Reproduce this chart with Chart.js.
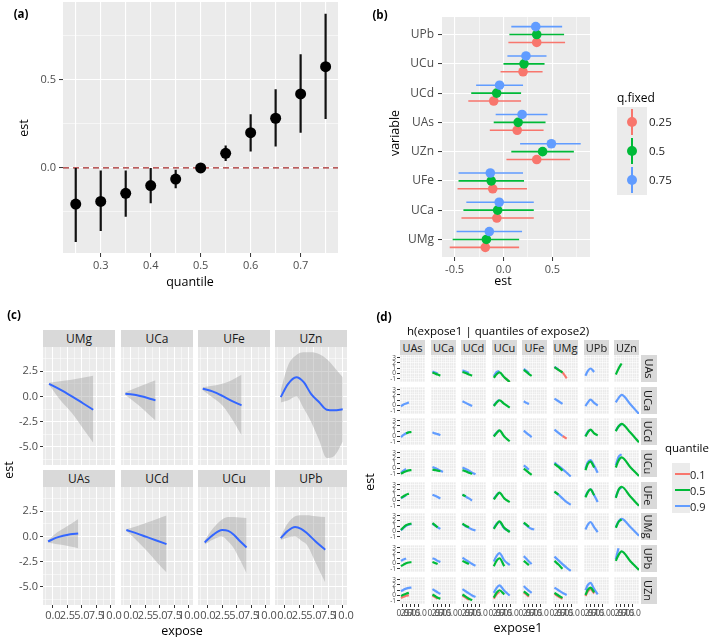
<!DOCTYPE html>
<html><head><meta charset="utf-8">
<script src="https://cdn.jsdelivr.net/npm/chart.js@4.4.0/dist/chart.umd.min.js"></script>
<style>
html,body{margin:0;padding:0;background:#fff}
body{width:709px;height:637px;overflow:hidden;position:relative;font-family:'Open Sans','DejaVu Sans',sans-serif}
canvas{position:absolute}
.t{position:absolute;white-space:nowrap;color:#000;line-height:1}
.strip{position:absolute;background:#D9D9D9;color:#1A1A1A;display:flex;align-items:center;justify-content:center;overflow:hidden;white-space:nowrap}
.box{position:absolute}
</style></head><body>
<script>
// ================= DATA =================
// (a) quantile effects
const aQuantile = [0.25,0.30,0.35,0.40,0.45,0.50,0.55,0.60,0.65,0.70,0.75];
const aEst      = [-0.205,-0.19,-0.144,-0.10,-0.063,0.0,0.083,0.20,0.282,0.42,0.575];
const aLower    = [-0.42,-0.358,-0.277,-0.20,-0.115,0.0,0.04,0.093,0.121,0.20,0.278];
const aUpper    = [0.0,-0.015,-0.015,0.0,-0.011,0.0,0.127,0.305,0.447,0.646,0.875];
const aRefY = 0;

// (b) single-variable effects, bottom to top
const bVariables = ['UMg','UCa','UFe','UZn','UAs','UCd','UCu','UPb'];
const bQFixed = ['0.25','0.5','0.75'];
const bEst25 = [-0.186,-0.068,-0.11,0.34,0.14,-0.10,0.20,0.34];
const bLow25 = [-0.55,-0.43,-0.47,0.03,-0.14,-0.36,-0.03,0.05];
const bUp25  = [0.16,0.31,0.24,0.68,0.41,0.18,0.40,0.63];
const bEst50 = [-0.175,-0.06,-0.125,0.40,0.15,-0.07,0.21,0.34];
const bLow50 = [-0.52,-0.41,-0.46,0.08,-0.10,-0.33,0.00,0.06];
const bUp50  = [0.16,0.31,0.21,0.72,0.43,0.18,0.42,0.62];
const bEst75 = [-0.145,-0.044,-0.135,0.49,0.19,-0.04,0.23,0.33];
const bLow75 = [-0.48,-0.38,-0.46,0.17,-0.08,-0.28,0.04,0.08];
const bUp75  = [0.19,0.31,0.20,0.79,0.45,0.20,0.44,0.60];

// (c) univariate exposure-response (x, fit, lower, upper)
const cPanels = ['UMg','UCa','UFe','UZn','UAs','UCd','UCu','UPb'];
const cX_UMg = [-0.66,1.2,3.2,5.1,6.95];
const cF_UMg = [1.25,0.7,0.03,-0.65,-1.32];
const cL_UMg = [1.15,-0.3,-1.6,-3.1,-4.6];
const cH_UMg = [1.35,1.5,1.65,1.85,2.05];
const cX_UCa = [-0.95,0.3,1.6,2.9,4.24];
const cF_UCa = [0.26,0.2,0.05,-0.15,-0.39];
const cL_UCa = [0.15,-0.4,-1.0,-1.7,-2.4];
const cH_UCa = [0.4,0.7,1.0,1.3,1.6];
const cX_UFe = [-0.89,0.8,2.5,4.1,5.8];
const cF_UFe = [0.76,0.5,0.05,-0.45,-0.89];
const cL_UFe = [0.62,-0.1,-0.9,-2.2,-3.85];
const cH_UFe = [0.9,1.05,1.25,1.6,2.14];
const cX_UZn = [-0.71,0.5,1.97,3.25,4.5,5.87,7.2,8.5,9.96];
const cF_UZn = [-0.07,1.2,1.9,1.41,0.26,-0.56,-1.32,-1.38,-1.28];
const cL_UZn = [-0.6,-0.4,0.0,-1.2,-2.5,-4.3,-6.1,-5.9,-4.5];
const cH_UZn = [0.6,3.0,4.1,4.37,4.37,4.2,3.7,2.9,1.9];
const cX_UAs = [-0.83,0.5,1.76,3.0,4.36];
const cF_UAs = [-0.5,-0.15,0.07,0.22,0.3];
const cL_UAs = [-0.6,-0.75,-0.85,-1.0,-1.17];
const cH_UAs = [-0.4,0.3,0.75,1.2,1.73];
const cX_UCd = [-0.78,1.0,2.7,4.4,6.14];
const cF_UCd = [0.63,0.3,-0.05,-0.4,-0.77];
const cL_UCd = [0.55,-0.4,-1.4,-2.5,-3.57];
const cH_UCd = [0.72,1.0,1.35,1.7,2.07];
const cX_UCu = [-0.55,0.9,2.45,3.5,4.47,5.5,6.66];
const cF_UCu = [-0.6,0.15,0.63,0.55,0.17,-0.45,-1.1];
const cL_UCu = [-0.8,-0.3,0.0,-0.5,-1.17,-2.3,-3.67];
const cH_UCu = [-0.4,0.8,1.67,1.93,1.93,1.88,1.83];
const cX_UPb = [-0.72,0.5,1.76,2.8,3.78,5.3,6.95];
const cF_UPb = [-0.17,0.55,0.93,0.75,0.33,-0.5,-1.33];
const cL_UPb = [-0.35,-0.1,0.0,-0.4,-0.83,-2.6,-4.57];
const cH_UPb = [0.0,1.3,2.0,2.1,2.1,2.0,1.93];
const cTicks = [0,2.5,5,7.5,10];

// (d) bivariate: columns = expose1 variable, rows = expose2 variable
const dVars = ['UAs','UCa','UCd','UCu','UFe','UMg','UPb','UZn'];
const dQuantiles = ['0.1','0.5','0.9'];
const dColX = [
  [-0.9,0.7,2.3,4.0,5.6],   // UAs
  [-0.6,1.0,2.6,4.3,5.9],   // UCa
  [-0.6,1.4,3.4,5.4,7.5],   // UCd
  [-0.4,1.5,3.1,6.1,9.5],   // UCu
  [-0.4,1.2,2.8,4.5,6.1],   // UFe
  [-0.6,1.9,4.4,7.0,9.5],   // UMg
  [-0.6,0.9,2.5,4.8,7.0],   // UPb
  [-0.4,1.3,3.2,8.5,14.0]   // UZn
];
const _ = null;
const dRowUAs = [null,
  {g:[0.2,0.0,-0.2,-0.4,_], b:[0.4,0.2,0.0,_,_]},
  {g:[0.3,0.1,-0.2,-0.4,_], b:[0.6,0.4,0.1,_,_]},
  {r:[_,_,_,-0.7,-1.6], g:[-0.8,-0.1,0.2,-0.7,-1.6], b:[-0.5,0.3,0.45,_,_]},
  {g:[0.7,0.3,-0.1,-0.45,_], b:[0.9,0.5,0.1,_,_]},
  {r:[1.2,0.7,0.2,-0.9,_], g:[1.2,0.7,0.2,_,_], b:[1.25,0.75,_,_,_]},
  {b:[-0.4,0.5,0.95,0.3,_]},
  {g:[-0.2,0.9,1.9,_,_]}];
const dRowUCa = [
  {b:[-0.15,0.2,0.4,0.6,_]},
  null,
  {b:[0.8,0.5,0.2,-0.1,_]},
  {g:[-0.1,0.6,1.0,0.3,-0.4], b:[0.0,0.7,1.05,_,_]},
  {b:[0.8,0.5,0.3,_,_]},
  {b:[1.3,0.8,0.3,_,_]},
  {b:[-0.1,0.6,1.1,0.5,0.0]},
  {b:[0.6,1.4,2.0,0.3,-1.6]}];
const dRowUCd = [
  {b:[-0.1,0.3,0.6,0.8,_], g:[_,_,0.6,0.8,0.85]},
  {b:[0.8,0.6,0.45,0.25,_]},
  null,
  {g:[0.0,0.7,1.15,0.0,-0.9], b:[0.1,0.8,1.15,_,_]},
  {b:[1.1,0.7,0.3,-0.1,_]},
  {r:[_,_,0.1,-0.4,_], b:[1.3,0.7,0.1,_,_]},
  {g:[0.0,0.8,1.3,0.6,0.2], b:[0.1,0.9,1.3,_,_]},
  {g:[1.0,1.9,2.4,0.8,-1.1], b:[1.1,1.9,2.3,_,_]}];
const dRowUCu = [
  {g:[-1.0,-0.7,-0.5,-0.35,-0.3], b:[-0.8,-0.4,-0.1,_,_]},
  {g:[-0.2,-0.3,-0.4,-0.5,_], b:[0.3,0.1,-0.15,-0.4,-0.65]},
  {g:[-0.3,-0.5,-0.8,-1.0,_], b:[0.2,-0.1,-0.4,-0.8,-1.1]},
  null,
  {g:[0.0,-0.4,-0.8,-1.2,_], b:[0.6,0.2,-0.2,_,_]},
  {g:[0.9,0.3,-0.4,_,_], b:[1.1,0.5,-0.1,-0.8,-1.5]},
  {g:[-0.3,0.9,1.3,0.2,_], b:[0.0,1.2,1.6,0.5,-0.8]},
  {g:[0.2,1.5,2.1,0.3,-1.4], b:[0.6,2.2,2.7,_,_]}];
const dRowUFe = [
  {g:[0.5,0.8,1.1,1.3,_], b:[0.4,0.7,1.0,_,_]},
  {b:[1.1,0.9,0.65,0.4,_]},
  {g:[1.1,0.8,_,_,_], b:[1.1,0.75,0.4,0.0,_]},
  {g:[0.2,1.0,1.5,0.4,-0.3], b:[0.3,1.1,1.5,_,_]},
  null,
  {g:[1.7,1.1,_,_,_], b:[1.7,1.1,0.4,-0.3,-0.8]},
  {g:[0.6,1.6,2.1,1.0,_], b:[0.8,1.7,2.1,1.0,-0.3]},
  {g:[0.5,2.0,2.6,0.8,-1.0], b:[0.6,2.0,2.5,_,_]}];
const dRowUMg = [
  {g:[0.3,0.8,1.2,1.4,1.5], b:[0.2,0.7,1.1,1.3,1.4]},
  {g:[1.6,1.2,0.8,_,_], b:[1.5,1.1,0.8,0.5,_]},
  {g:[1.5,1.1,0.8,_,_], b:[1.4,1.0,0.7,0.4,0.2]},
  {g:[0.5,1.4,1.9,0.7,-0.1], b:[0.6,1.5,1.8,0.6,0.0]},
  {g:[1.7,1.3,0.9,_,_], b:[1.6,1.2,0.8,0.5,0.4]},
  null,
  {b:[0.4,1.3,1.8,0.8,-0.1]},
  {g:[0.7,1.8,2.3,_,_], b:[0.8,1.9,2.4,0.9,-0.8]}];
const dRowUPb = [
  {g:[-0.5,-0.2,0.05,0.2,0.25], b:[0.5,0.75,0.95,_,_]},
  {g:[0.3,0.1,-0.1,_,_], b:[1.0,0.8,0.5,0.3,_]},
  {g:[0.5,0.2,-0.1,_,_], b:[1.1,0.7,0.3,-0.1,-0.4]},
  {g:[-0.5,0.6,1.0,-0.5,_], b:[0.4,1.5,1.95,0.6,-0.3]},
  {g:[0.5,0.1,-0.3,_,_], b:[1.4,0.9,0.4,-0.1,_]},
  {g:[0.5,-0.2,-1.0,_,_], b:[1.3,0.6,-0.1,-0.8,-1.4]},
  null,
  {g:[0.5,1.6,2.3,0.5,-1.2], b:[0.8,2.9,_,_,_]}];
const dRowUZn = [
  {r:[-0.45,-0.25,-0.05,0.05,_], g:[-0.1,0.15,0.35,0.5,_], b:[0.8,1.1,1.3,1.45,1.5]},
  {r:[0.0,-0.3,-0.6,_,_], g:[0.2,-0.1,-0.4,-0.6,_], b:[1.2,0.9,0.6,0.3,_]},
  {r:[0.0,-0.4,-0.8,_,_], g:[0.2,-0.2,-0.6,-0.9,_], b:[1.2,0.8,0.4,0.0,-0.3]},
  {r:[-0.6,0.3,0.7,_,_], g:[-0.4,0.6,1.0,0.2,_], b:[0.5,1.5,1.9,0.9,0.0]},
  {r:[0.6,0.2,-0.2,_,_], g:[0.8,0.4,0.0,_,_], b:[1.8,1.3,0.9,0.5,_]},
  {r:[0.3,-0.2,-0.6,_,_], g:[0.5,0.0,-0.45,_,_], b:[1.5,1.0,0.5,0.1,_]},
  {r:[-0.1,0.8,1.2,0.4,_], g:[0.1,1.1,1.5,0.6,_], b:[1.0,2.0,2.4,1.2,0.2]},
  null];
const dRows = [dRowUAs,dRowUCa,dRowUCd,dRowUCu,dRowUFe,dRowUMg,dRowUPb,dRowUZn];

// ================= HELPERS =================
const FONT = "'Open Sans', 'DejaVu Sans', sans-serif";
const BG = '#EBEBEB';
const COL = {r:'#F8766D', g:'#00BA38', b:'#619CFF'};
const near = (v, m) => Math.abs(v / m - Math.round(v / m)) < 1e-6;
const fmt1 = v => (Math.abs(v) < 1e-9 ? 0 : v).toFixed(1);

const bgPlugin = {id:'panelBg', beforeDraw(ch){
  const a = ch.chartArea, c = ch.ctx;
  c.save(); c.fillStyle = BG; c.fillRect(a.left, a.top, a.right - a.left, a.bottom - a.top); c.restore();
}};

function scale(kind, o) {
  const lab = o.label || (() => '');
  const size = o.show ? (o.size ?? (kind === 'x' ? 22 : 46)) : 0;
  const s = {
    type:'linear', position: kind === 'x' ? 'bottom' : 'left', min:o.min, max:o.max,
    ticks:{stepSize:o.step, includeBounds:false, autoSkip:false, maxRotation:0, minRotation:0,
      display: !!o.show, color:'#4D4D4D', font:{family:FONT, size:o.fs || 11}, padding: o.pad ?? 2,
      callback: v => lab(v)},
    grid:{color:'#FFFFFF',
      lineWidth: c => c.tick ? (near(c.tick.value, o.major) ? (o.majW ?? 1.1) : (o.minW ?? 0.55)) : 0,
      drawTicks: !!o.show, tickLength: o.tl ?? 4, tickWidth: o.tw ?? 1,
      tickColor: c => (c.tick && lab(c.tick.value) !== '') ? '#333333' : 'rgba(0,0,0,0)'},
    border:{display:false},
    afterFit: sc => { if (kind === 'x') sc.height = size; else sc.width = size; }
  };
  return {s, size};
}

function plotChart(p, X, Y, datasets) {
  const M = 50;
  const cv = document.createElement('canvas');
  const W = p.w + 2*M, H = p.h + 2*M;
  cv.width = W; cv.height = H;
  cv.style.cssText = `left:${p.l - M}px;top:${p.t - M}px;width:${W}px;height:${H}px`;
  document.body.appendChild(cv);
  return new Chart(cv, {type:'scatter', data:{datasets},
    options:{responsive:false, maintainAspectRatio:false, animation:false, devicePixelRatio:1, events:[],
      layout:{padding:{left:M - Y.size, top:M, right:M, bottom:M - X.size}},
      plugins:{legend:{display:false}, tooltip:{enabled:false}},
      scales:{x:X.s, y:Y.s}},
    plugins:[bgPlugin]});
}

function txt(s, x, y, o = {}) {
  const d = document.createElement('div');
  d.className = 't'; d.textContent = s;
  const size = o.size || 12;
  const tx = o.anchor === 'l' ? '0' : (o.anchor === 'r' ? '-100%' : '-50%');
  d.style.cssText = `left:${x}px;top:${y}px;font-size:${size}px;font-weight:${o.bold ? 700 : 400};color:${o.color || '#000'};transform:translate(${tx},-50%) ${o.rot ? 'rotate(' + o.rot + 'deg)' : ''};transform-origin:${o.anchor === 'l' ? '0 50%' : '50% 50%'}`;
  document.body.appendChild(d);
}
function strip(s, l, t, w, h, size, rot) {
  const d = document.createElement('div');
  d.className = 'strip';
  d.style.cssText = `left:${l}px;top:${t}px;width:${w}px;height:${h}px;font-size:${size}px`;
  const sp = document.createElement('span');
  sp.textContent = s;
  if (rot) { sp.style.transform = 'rotate(90deg)'; sp.style.display = 'inline-block'; }
  d.appendChild(sp);
  document.body.appendChild(d);
}
function box(l, t, w, h, bg, extra = '') {
  const d = document.createElement('div');
  d.className = 'box';
  d.style.cssText = `left:${l}px;top:${t}px;width:${w}px;height:${h}px;background:${bg};${extra}`;
  document.body.appendChild(d);
}
const lineDs = (data, color, width, extra = {}) => Object.assign({data, showLine:true, borderColor:color, borderWidth:width, pointRadius:0, fill:false}, extra);
const ptDs = (data, color, r) => ({data, showLine:false, pointRadius:r, pointBackgroundColor:color, pointBorderWidth:0, pointStyle:'circle'});

// ================= PANEL (a) =================
(() => {
  const xMin = 0.2245, xMax = 0.7748;
  const xs = scale('x', {min:xMin, max:xMax, step:0.05, major:0.1, majW:1.1, minW:1.1, show:true, fs:11, tl:4, pad:2,
    label: v => near(v, 0.1) ? fmt1(v) : ''});
  const ys = scale('y', {min:-0.483, max:0.942, step:0.25, major:0.5, show:true, fs:11, tl:4, pad:3,
    label: v => near(v, 0.5) ? fmt1(v) : ''});
  const bars = [];
  aQuantile.forEach((q, i) => { bars.push({x:q, y:aLower[i]}, {x:q, y:aUpper[i]}, {x:q, y:null}); });
  plotChart({l:63, t:2, w:275, h:251}, xs, ys, [
    ptDs(aQuantile.map((q, i) => ({x:q, y:aEst[i]})), '#000000', 5.5),
    lineDs(bars, '#111111', 2.2),
    lineDs([{x:xMin, y:aRefY}, {x:xMax, y:aRefY}], '#A52A2A', 1.3, {borderDash:[6,4]})
  ]);
  txt('(a)', 21, 14, {size:11.5, bold:true});
  txt('est', 24, 128, {size:12.5, rot:-90});
  txt('quantile', 190, 282, {size:12.5});
})();

// ================= PANEL (b) =================
(() => {
  const bDodge = 0.27;
  const xs = scale('x', {min:-0.629, max:0.885, step:0.25, major:0.5, show:true, fs:11, tl:4, pad:2,
    label: v => near(v, 0.5) ? fmt1(v) : ''});
  const ys = scale('y', {min:0.4, max:8.6, step:1, major:1, show:true, fs:12, tl:4, pad:4,
    label: v => bVariables[Math.round(v) - 1] || ''});
  const series = [
    {est:bEst75, lo:bLow75, hi:bUp75, col:COL.b, off: bDodge},
    {est:bEst50, lo:bLow50, hi:bUp50, col:COL.g, off: 0},
    {est:bEst25, lo:bLow25, hi:bUp25, col:COL.r, off:-bDodge}
  ];
  const ds = [];
  series.forEach(s => {
    const bars = [];
    s.est.forEach((v, i) => { const y = i + 1 + s.off; bars.push({x:s.lo[i], y}, {x:s.hi[i], y}, {x:null, y:null}); });
    ds.push(ptDs(s.est.map((v, i) => ({x:v, y:i + 1 + s.off})), s.col, 4.8));
    ds.push(lineDs(bars, s.col, 1.6));
  });
  plotChart({l:442, t:17, w:148, h:240}, xs, ys, ds);
  txt('(b)', 380, 15, {size:11.5, bold:true});
  txt('variable', 395, 133, {size:12.5, rot:-90});
  txt('est', 503, 281, {size:12.5});
  // legend
  txt('q.fixed', 617, 98, {size:12, anchor:'l'});
  box(617, 107, 30, 88, BG);
  const keyY = [121.7, 151, 180.3];
  [COL.r, COL.g, COL.b].forEach((c, i) => {
    box(631.2, keyY[i] - 13, 1.6, 26, c);
    box(627, keyY[i] - 5, 10, 10, c, 'border-radius:50%');
    txt(bQFixed[i], 649, keyY[i], {size:11.5, anchor:'l', color:'#1A1A1A'});
  });
})();

// ================= PANEL (c) =================
(() => {
  const cData = {
    UMg:[cX_UMg,cF_UMg,cL_UMg,cH_UMg], UCa:[cX_UCa,cF_UCa,cL_UCa,cH_UCa],
    UFe:[cX_UFe,cF_UFe,cL_UFe,cH_UFe], UZn:[cX_UZn,cF_UZn,cL_UZn,cH_UZn],
    UAs:[cX_UAs,cF_UAs,cL_UAs,cH_UAs], UCd:[cX_UCd,cF_UCd,cL_UCd,cH_UCd],
    UCu:[cX_UCu,cF_UCu,cL_UCu,cH_UCu], UPb:[cX_UPb,cF_UPb,cL_UPb,cH_UPb]
  };
  const lefts = [43,121,198,275], tops = [347,487], W = 72, H = 118;
  cPanels.forEach((name, k) => {
    const col = k % 4, row = Math.floor(k / 4);
    const [X, F, L, Hh] = cData[name];
    const xs = scale('x', {min:-1.7, max:10.7, step:1.25, major:2.5, majW:1.0, minW:0.5, show: row === 1, fs:11, tl:3, pad:1,
      label: v => cTicks.some(t => Math.abs(t - v) < 1e-9) ? fmt1(v) : ''});
    const ys = scale('y', {min:-6.8, max:4.9, step:1.25, major:2.5, majW:1.0, minW:0.5, show: col === 0, fs:11, tl:3, pad:2,
      label: v => near(v, 2.5) ? fmt1(v) : ''});
    const pts = a => X.map((x, i) => ({x, y:a[i]}));
    plotChart({l:lefts[col], t:tops[row], w:W, h:H}, xs, ys, [
      lineDs(pts(F), '#3366FF', 2, {cubicInterpolationMode:'monotone'}),
      lineDs(pts(L), 'rgba(0,0,0,0)', 0, {cubicInterpolationMode:'monotone'}),
      lineDs(pts(Hh), 'rgba(0,0,0,0)', 0, {cubicInterpolationMode:'monotone', fill:'-1', backgroundColor:'rgba(153,153,153,0.4)'})
    ]);
    strip(name, lefts[col], tops[row] - 17, W, 17, 12);
  });
  txt('(c)', 14, 315, {size:11.5, bold:true});
  txt('est', 9, 470, {size:12.5, rot:-90});
  txt('expose', 182, 631, {size:12.5});
})();

// ================= PANEL (d) =================
(() => {
  const colL = [400,431,461,492,522,553,584,614], rowT = [355,387,418,450,482,513,545,577];
  const W = 25, H = 27;
  dRows.forEach((rowCells, r) => {
    rowCells.forEach((cell, c) => {
      const xs = scale('x', {min:-1.5, max:14, step:1.25, major:2.5, majW:0.6, minW:0.35, show: r === 7, fs:8.5, tl:3, pad:1, size:16,
        label: v => (near(v, 2.5) && v >= 0 && v <= 10) ? fmt1(v) : ''});
      const ys = scale('y', {min:-1.6, max:3.5, step:0.5, major:1, majW:0.6, minW:0.35, show: c === 0, fs:6.5, tl:3, pad:1, size:20,
        label: v => near(v, 1) ? String(Math.round(v)) : ''});
      const ds = [];
      if (cell) {
        const X = dColX[c];
        ['g','b','r'].forEach(q => {
          if (cell[q]) ds.push(lineDs(X.map((x, i) => ({x, y:cell[q][i]})), COL[q], 2.2, {cubicInterpolationMode:'monotone'}));
        });
      }
      plotChart({l:colL[c], t:rowT[r], w:W, h:H}, xs, ys, ds);
    });
  });
  dVars.forEach((v, i) => strip(v, colL[i], 340, W, 15, 11));
  dVars.forEach((v, i) => strip(v, 641, rowT[i], 16, H, 11, true));
  txt('(d)', 384, 317, {size:11.5, bold:true});
  txt('h(expose1 | quantiles of expose2)', 407, 331, {size:11.5, anchor:'l'});
  txt('est', 370, 482, {size:12.5, rot:-90});
  txt('expose1', 518, 628, {size:12.5});
  // legend
  txt('quantile', 665, 448, {size:11.5, anchor:'l'});
  box(672, 463, 18, 50, BG);
  const ky = [474, 490, 506];
  [COL.r, COL.g, COL.b].forEach((c, i) => {
    box(675, ky[i] - 1.2, 15, 2.4, c);
    txt(dQuantiles[i], 690, ky[i], {size:11, anchor:'l', color:'#1A1A1A'});
  });
})();
</script>
</body></html>
